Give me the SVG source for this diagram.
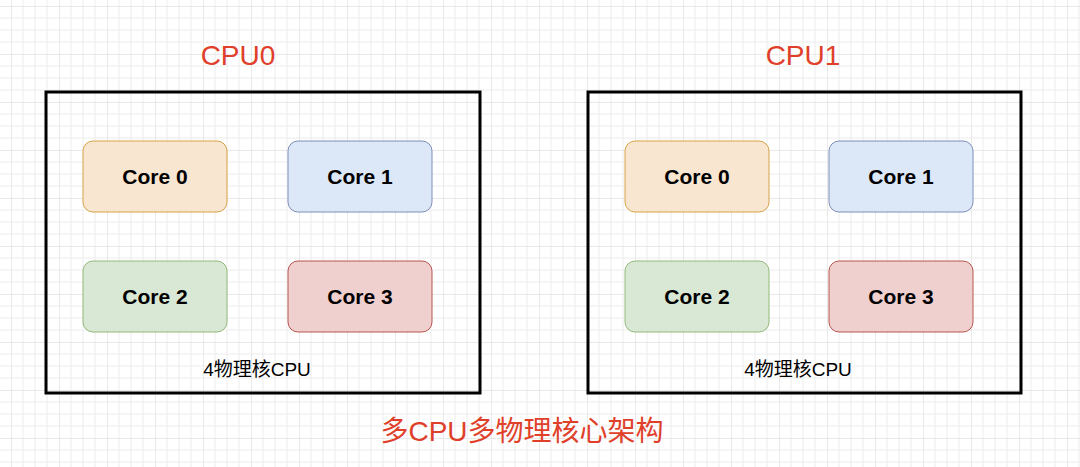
<svg xmlns="http://www.w3.org/2000/svg" width="1080" height="467" viewBox="0 0 1080 467">
<defs>
<pattern id="g" x="11" y="6" width="48" height="48" patternUnits="userSpaceOnUse">
<path d="M0 0H48M0 12H48M0 24H48M0 36H48M0 0V48M12 0V48M24 0V48M36 0V48" stroke="#ececec" stroke-width="1" fill="none"/>
<path d="M0 0H48M0 0V48" stroke="#dcdcdc" stroke-width="1" fill="none"/>
</pattern>
<style>
.box{fill:none;stroke:#000;stroke-width:3}
.c{stroke-width:1}
.c0{fill:#f8e6d0;stroke:#d6a346}
.c1{fill:#dce8f8;stroke:#7c8fb8}
.c2{fill:#d9e8d4;stroke:#92b97a}
.c3{fill:#f0d0ce;stroke:#b85450}
.t{font-family:"Liberation Sans",Arial,sans-serif;font-weight:bold;font-size:21px;text-anchor:middle;fill:#000}
.l{font-family:"Liberation Sans","Noto Sans CJK SC",sans-serif;font-size:19px;text-anchor:middle;fill:#000}
.r{font-family:"Liberation Sans","Noto Sans CJK SC",sans-serif;font-size:28px;text-anchor:middle;fill:#e0402a}
</style>
</defs>
<rect width="1080" height="467" fill="#fff"/>
<rect width="1080" height="467" fill="url(#g)"/>
<g id="cpu0">
<text class="r" x="238" y="65">CPU0</text>
<rect class="box" x="46" y="92" width="434" height="301"/>
<text class="l" x="257" y="376">4物理核CPU</text>
</g>
<g id="cpu0-core0"><rect class="c c0" x="83" y="141" width="144" height="71" rx="10"/><text class="t" x="155" y="184">Core 0</text></g>
<g id="cpu0-core1"><rect class="c c1" x="288" y="141" width="144" height="71" rx="10"/><text class="t" x="360" y="184">Core 1</text></g>
<g id="cpu0-core2"><rect class="c c2" x="83" y="261" width="144" height="71" rx="10"/><text class="t" x="155" y="304">Core 2</text></g>
<g id="cpu0-core3"><rect class="c c3" x="288" y="261" width="144" height="71" rx="10"/><text class="t" x="360" y="304">Core 3</text></g>
<g id="cpu1">
<text class="r" x="803" y="65">CPU1</text>
<rect class="box" x="588" y="92" width="433" height="301"/>
<text class="l" x="798" y="376">4物理核CPU</text>
</g>
<g id="cpu1-core0"><rect class="c c0" x="625" y="141" width="144" height="71" rx="10"/><text class="t" x="697" y="184">Core 0</text></g>
<g id="cpu1-core1"><rect class="c c1" x="829" y="141" width="144" height="71" rx="10"/><text class="t" x="901" y="184">Core 1</text></g>
<g id="cpu1-core2"><rect class="c c2" x="625" y="261" width="144" height="71" rx="10"/><text class="t" x="697" y="304">Core 2</text></g>
<g id="cpu1-core3"><rect class="c c3" x="829" y="261" width="144" height="71" rx="10"/><text class="t" x="901" y="304">Core 3</text></g>
<g id="connectors"/>
<g id="caption"><text class="r" x="522" y="441">多CPU多物理核心架构</text></g>
</svg>
